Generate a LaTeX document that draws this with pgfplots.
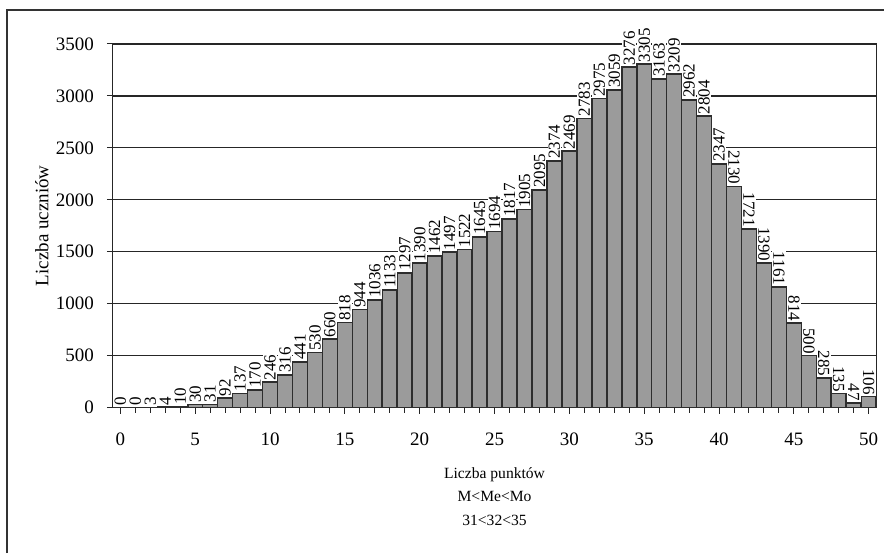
\documentclass[border=0pt]{standalone}
\usepackage{fontspec}
\setmainfont{Liberation Serif}
\usepackage{pgfplots}
\pgfplotsset{compat=1.18}
\definecolor{barfill}{RGB}{155,155,155}
\definecolor{baredge}{RGB}{45,45,45}
\begin{document}
\begin{tikzpicture}
\begin{axis}[
  scale only axis,
  width=382pt, height=182pt,
  xmin=-0.5, xmax=50.5,
  ymin=0, ymax=3500,
  axis lines=box,
  axis line style={black!85, line width=0.6pt},
  clip=false,
  xtick={0,5,...,50},
  minor xtick={0,1,...,50},
  ytick={0,500,...,3500},
  xtick pos=bottom, ytick pos=left,
  tick align=outside,
  major tick length=3pt, minor tick length=2.5pt,
  tick style={black!85, line width=0.5pt},
  ymajorgrids,
  grid style={black!85, line width=0.6pt},
  /pgf/number format/assume math mode=true,
  /pgf/number format/1000 sep={},
  ticklabel style={font=\fontsize{9.5}{10}\selectfont},
  xticklabel style={yshift=-6pt},
  yticklabel style={xshift=-3pt},
  ylabel={Liczba uczniów},
  ylabel style={at={(axis description cs:-0.093,0.5)}, anchor=center, font=\fontsize{9.5}{11}\selectfont},
  xlabel={Liczba punktów\\M<Me<Mo\\31<32<35},
  xlabel style={at={(axis description cs:0.5,0)}, anchor=center, yshift=-44.5pt, align=center, font=\fontsize{7.8}{11.75}\selectfont},
  ybar, bar width=1, bar shift=0,
  nodes near coords,
  every node near coord/.append style={font=\fontsize{8.5}{9}\selectfont, text=black, fill=white, inner sep=0.6pt, draw=none},
]
\addplot[fill=barfill, draw=baredge, line width=0.8pt, nodes near coords style={rotate=90, anchor=west}] coordinates {
(0,0) (1,0) (2,3) (3,4) (4,10) (5,30) (6,31) (7,92) (8,137) (9,170)
(10,246) (11,316) (12,441) (13,530) (14,660) (15,818) (16,944) (17,1036) (18,1133) (19,1297)
(20,1390) (21,1462) (22,1497) (23,1522) (24,1645) (25,1694) (26,1817) (27,1905) (28,2095) (29,2374)
(30,2469) (31,2783) (32,2975) (33,3059) (34,3276) (35,3305) (36,3163) (37,3209) (38,2962) (39,2804)
(40,2347)
};
\addplot[fill=barfill, draw=baredge, line width=0.8pt, nodes near coords style={rotate=-90, anchor=east}] coordinates {
(41,2130) (42,1721) (43,1390) (44,1161) (45,814) (46,500) (47,285) (48,135) (49,47) (50,106)
};
\draw[black!80, line width=0.8pt] (rel axis cs:-0.1387,-0.40) -- (rel axis cs:-0.1387,1.0934) -- (rel axis cs:1.0105,1.0934);
\path (rel axis cs:-0.1479,-0.390) rectangle (rel axis cs:1.0105,1.1209);
\end{axis}
\end{tikzpicture}
\end{document}
